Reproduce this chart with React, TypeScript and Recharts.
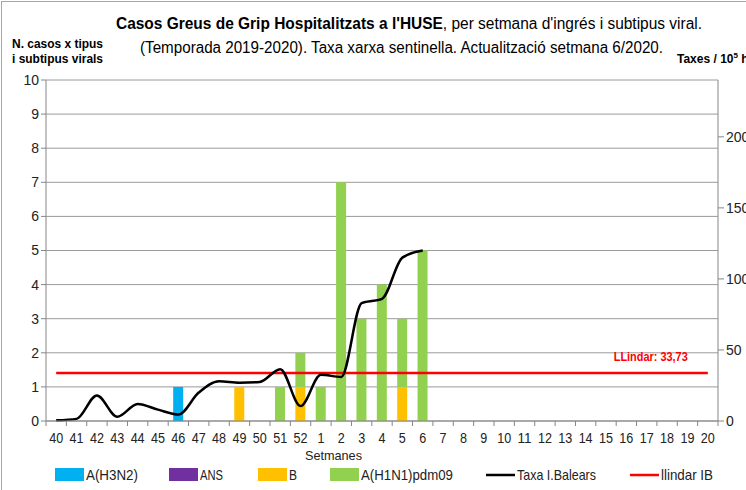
import React from 'react';
import {
  ComposedChart,
  Bar,
  Line,
  XAxis,
  YAxis,
  CartesianGrid,
} from 'recharts';

// weeks of the 2019-2020 season
const weeks = [
  '40', '41', '42', '43', '44', '45', '46', '47', '48', '49', '50', '51', '52',
  '1', '2', '3', '4', '5', '6', '7', '8', '9', '10', '11', '12', '13', '14',
  '15', '16', '17', '18', '19', '20',
];

// cases per week and viral subtype
const h3n2 = [0, 0, 0, 0, 0, 0, 1, 0, 0, 0, 0, 0, 0, 0, 0, 0, 0, 0, 0];
const ans = [0, 0, 0, 0, 0, 0, 0, 0, 0, 0, 0, 0, 0, 0, 0, 0, 0, 0, 0];
const fluB = [0, 0, 0, 0, 0, 0, 0, 0, 0, 1, 0, 0, 1, 0, 0, 0, 0, 1, 0];
const h1n1 = [0, 0, 0, 0, 0, 0, 0, 0, 0, 0, 0, 1, 1, 1, 7, 3, 4, 2, 5];

// sentinel network rate per 10^5 inhabitants
const taxa = [0.5, 1.5, 18, 3, 12, 8, 4.5, 20, 28, 27, 27.5, 36.5, 10.5, 32.5, 31, 83, 86, 115, 120];
const llindar = 33.73;

const leftTicks = [0, 1, 2, 3, 4, 5, 6, 7, 8, 9, 10];
const rightTicks = [0, 50, 100, 150, 200];

const C_H3N2 = '#00B0F0';
const C_ANS = '#7030A0';
const C_B = '#FFC000';
const C_H1N1 = '#92D050';

const data = weeks.map((w, i) => ({
  week: w,
  h3n2: i < h3n2.length && h3n2[i] ? h3n2[i] : null,
  ans: i < ans.length && ans[i] ? ans[i] : null,
  b: i < fluB.length && fluB[i] ? fluB[i] : null,
  h1n1: i < h1n1.length && h1n1[i] ? h1n1[i] : null,
  taxa: i < taxa.length ? taxa[i] : null,
  llindar,
}));

const FONT = '"Liberation Sans", Arial, sans-serif';
const SQ = 'spacingAndGlyphs';

const WeekTick = (props: any) => {
  const { x, y, payload, index } = props;
  const band = 671 / weeks.length;
  const label = String(payload.value);
  return (
    <g>
      <line x1={x - band / 2} x2={x - band / 2} y1={y - 8} y2={y - 3} stroke="#868686" />
      {index === weeks.length - 1 && (
        <line x1={x + band / 2} x2={x + band / 2} y1={y - 8} y2={y - 3} stroke="#868686" />
      )}
      <text
        x={x}
        y={y + 14}
        textAnchor="middle"
        fontFamily={FONT}
        fontSize={14}
        fill="#222"
        textLength={label.length * 7}
        lengthAdjust={SQ}
      >
        {label}
      </text>
    </g>
  );
};

const LlindarLabel = (props: any) => {
  const { x, y, index } = props;
  if (index !== 29) return null;
  return (
    <text
      x={x + 4}
      y={y - 12}
      textAnchor="middle"
      fontFamily={FONT}
      fontWeight="bold"
      fontSize={13}
      fill="#FF0000"
      textLength={74}
      lengthAdjust={SQ}
    >
      LLindar: 33,73
    </text>
  );
};

const legendItems = [
  { label: 'A(H3N2)', color: C_H3N2, kind: 'box', x: 55, w: 52 },
  { label: 'ANS', color: C_ANS, kind: 'box', x: 169, w: 23 },
  { label: 'B', color: C_B, kind: 'box', x: 258, w: 8 },
  { label: 'A(H1N1)pdm09', color: C_H1N1, kind: 'box', x: 330, w: 92 },
  { label: 'Taxa I.Balears', color: '#000', kind: 'line', x: 486, w: 79 },
  { label: 'llindar IB', color: '#FF0000', kind: 'line', x: 630, w: 52 },
];

export default function App() {
  return (
    <div
      style={{
        position: 'fixed',
        left: 0,
        top: 0,
        width: 746,
        height: 490,
        overflow: 'hidden',
        background: '#fff',
      }}
    >
      <div
        style={{
          position: 'absolute',
          left: 1,
          top: 1,
          width: 800,
          height: 600,
          borderLeft: '1px solid #a6a6a6',
          borderTop: '1px solid #a6a6a6',
        }}
      />
      <div style={{ position: 'absolute', left: 0, top: 0 }}>
        <ComposedChart
          width={800}
          height={490}
          data={data}
          margin={{ top: 80, right: 22, bottom: 39, left: 0 }}
          barSize={10}
        >
          <CartesianGrid yAxisId="left" vertical={false} stroke="#9a9a9a" strokeWidth={1} />
          <XAxis
            dataKey="week"
            height={30}
            axisLine={{ stroke: '#868686' }}
            tickLine={false}
            tick={<WeekTick />}
            interval={0}
          />
          <YAxis
            yAxisId="left"
            width={46}
            domain={[0, 10]}
            ticks={leftTicks}
            interval={0}
            axisLine={{ stroke: '#868686' }}
            tickLine={{ stroke: '#868686' }}
            tickSize={5}
            tick={{ fontFamily: FONT, fontSize: 14, fill: '#222' }}
          />
          <YAxis
            yAxisId="right"
            orientation="right"
            width={60}
            domain={[0, 240]}
            ticks={rightTicks}
            interval={0}
            axisLine={{ stroke: '#868686' }}
            tickLine={{ stroke: '#868686' }}
            tickSize={6}
            tick={{ fontFamily: FONT, fontSize: 14, fill: '#222' }}
          />
          <Bar yAxisId="left" dataKey="h3n2" stackId="s" fill={C_H3N2} isAnimationActive={false} />
          <Bar yAxisId="left" dataKey="ans" stackId="s" fill={C_ANS} isAnimationActive={false} />
          <Bar yAxisId="left" dataKey="b" stackId="s" fill={C_B} isAnimationActive={false} />
          <Bar yAxisId="left" dataKey="h1n1" stackId="s" fill={C_H1N1} isAnimationActive={false} />
          <Line
            yAxisId="right"
            dataKey="llindar"
            stroke="#FF0000"
            strokeWidth={2.5}
            dot={false}
            label={<LlindarLabel />}
            isAnimationActive={false}
          />
          <Line
            yAxisId="right"
            dataKey="taxa"
            type="monotone"
            stroke="#000"
            strokeWidth={2.5}
            dot={false}
            connectNulls={false}
            isAnimationActive={false}
          />
        </ComposedChart>
      </div>
      <svg
        width={746}
        height={490}
        style={{ position: 'absolute', left: 0, top: 0, pointerEvents: 'none' }}
      >
        <text
          x={116}
          y={29}
          fontFamily={FONT}
          fontSize={16}
          fill="#000"
          textLength={586}
          lengthAdjust={SQ}
        >
          <tspan fontWeight="bold">Casos  Greus de Grip Hospitalitzats a l'HUSE</tspan>
          <tspan>, per setmana  d'ingrés i subtipus viral.</tspan>
        </text>
        <text
          x={140}
          y={53}
          fontFamily={FONT}
          fontSize={16}
          fill="#000"
          textLength={523}
          lengthAdjust={SQ}
        >
          (Temporada 2019-2020).  Taxa xarxa sentinella.  Actualització setmana  6/2020.
        </text>
        <text x={12} y={48} fontFamily={FONT} fontWeight="bold" fontSize={12.5} fill="#000" textLength={91} lengthAdjust={SQ}>
          N.  casos x tipus
        </text>
        <text x={12} y={63} fontFamily={FONT} fontWeight="bold" fontSize={12.5} fill="#000" textLength={91} lengthAdjust={SQ}>
          i subtipus virals
        </text>
        <text x={677} y={63} fontFamily={FONT} fontWeight="bold" fontSize={12} fill="#000">
          Taxes / 10<tspan fontSize={8} dy={-5}>5</tspan>
          <tspan dy={5}> h</tspan>
        </text>
        <text
          x={305}
          y={460}
          fontFamily={FONT}
          fontSize={13}
          fill="#222"
          textLength={57}
          lengthAdjust={SQ}
        >
          Setmanes
        </text>
        {legendItems.map((it) => (
          <g key={it.label}>
            {it.kind === 'box' ? (
              <rect x={it.x} y={468} width={29} height={13} fill={it.color} />
            ) : (
              <line x1={it.x} x2={it.x + 29} y1={475} y2={475} stroke={it.color} strokeWidth={2.5} />
            )}
            <text
              x={it.x + 31}
              y={480}
              fontFamily={FONT}
              fontSize={14.5}
              fill="#222"
              textLength={it.w}
              lengthAdjust={SQ}
            >
              {it.label}
            </text>
          </g>
        ))}
      </svg>
    </div>
  );
}
